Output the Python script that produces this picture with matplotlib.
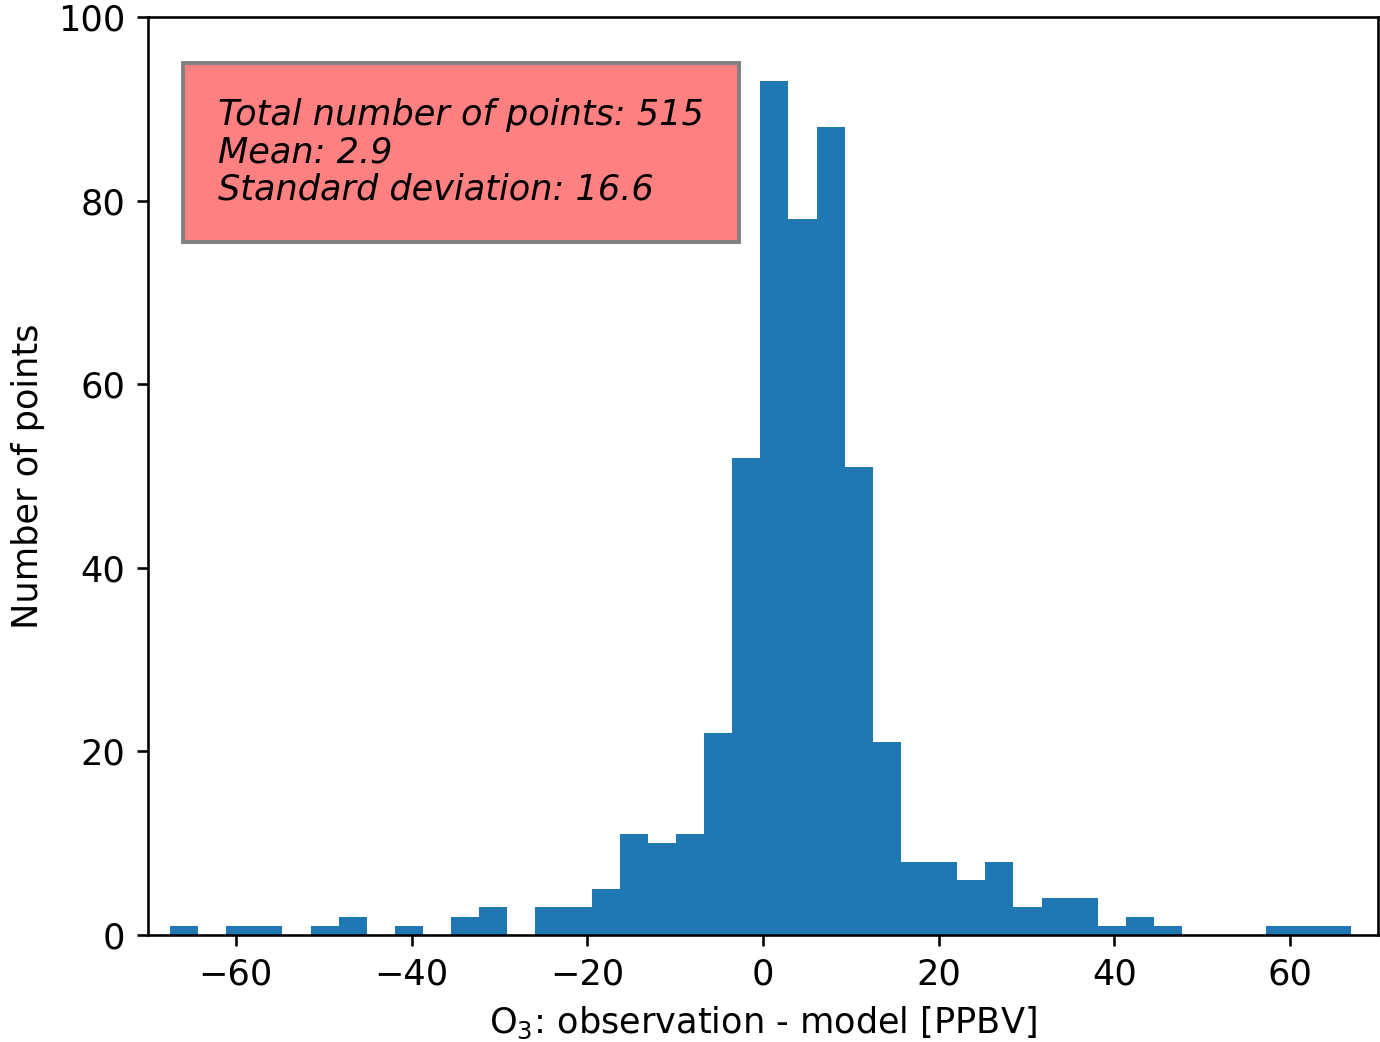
import numpy as np
import matplotlib
matplotlib.use("Agg")
import matplotlib.pyplot as plt

# Histogram data
bin_start = -67.5
bin_width = 3.2
counts = [1, 0, 1, 1, 0, 1, 2, 0, 1, 0,
          2, 3, 0, 3, 3, 5, 11, 10, 11, 22,
          52, 93, 78, 88, 51, 21, 8, 8, 6, 8,
          3, 4, 4, 1, 2, 1, 0, 0, 0, 1,
          1, 1]
stats_text = "Total number of points: 515\nMean: 2.9\nStandard deviation: 16.6"
xlabel = "O$_3$: observation - model [PPBV]"
ylabel = "Number of points"

edges = bin_start + bin_width * np.arange(len(counts) + 1)

plt.rcParams["font.size"] = 10.8
dpi = 234
fig = plt.figure(figsize=(1380 / dpi, 1042 / dpi), dpi=dpi)
ax = fig.add_axes([148 / 1380, 1 - 935 / 1042, 1230 / 1380, 918 / 1042])
ax.hist(edges[:-1] + bin_width / 2, bins=edges, weights=counts, color="#1f77b4")
ax.set_xlim(-70, 70)
ax.set_ylim(0, 100)
ax.set_xticks([-60, -40, -20, 0, 20, 40, 60])
ax.set_yticks([0, 20, 40, 60, 80, 100])
ax.set_xlabel(xlabel)
ax.set_ylabel(ylabel)
ax.text(0.057, 0.912, stats_text, transform=ax.transAxes, va="top", ha="left",
        style="italic", linespacing=1.13,
        bbox=dict(facecolor=(1, 0.5, 0.5), edgecolor="0.5", linewidth=1.2, pad=10.8))
fig.savefig("out.png", dpi=dpi)
